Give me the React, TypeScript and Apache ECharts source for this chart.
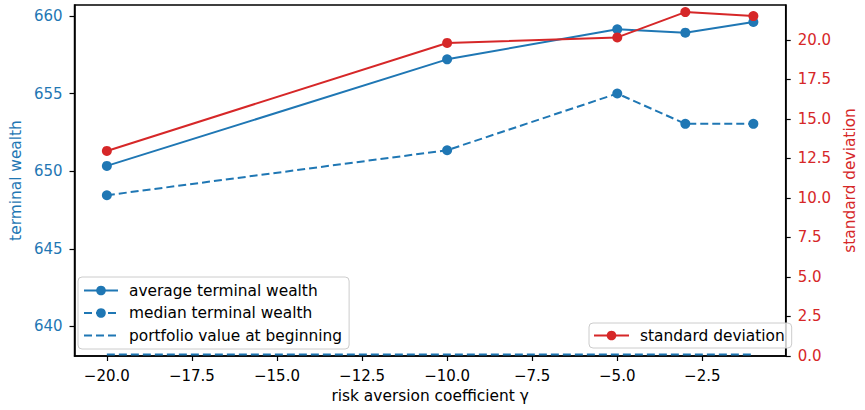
import React, { useEffect, useRef } from "react";
import * as echarts from "echarts";

const gammas = [-20, -10, -5, -3, -1];
const avgWealth = [650.34, 657.2, 659.14, 658.92, 659.61];
const medianWealth = [648.45, 651.35, 655.0, 653.05, 653.05];
const portfolioStart = [638.2, 638.2, 638.2, 638.2, 638.2];
const stdDev = [12.97, 19.8, 20.15, 21.75, 21.5];

const xTicks = [-20, -17.5, -15, -12.5, -10, -7.5, -5, -2.5];
const leftTicks = [640, 645, 650, 655, 660];
const rightTicks = [0, 2.5, 5, 7.5, 10, 12.5, 15, 17.5, 20];

const BLUE = "#1f77b4";
const RED = "#d62728";
const FONT = "DejaVu Sans";
const FS = 15;
const FL = 15.4;

const fmt = (v: number) => {
  const s = v.toFixed(1);
  return v < 0 ? "\u2212" + s.slice(1) : s;
};

const pairs = (ys: number[]) => gammas.map((g, i) => [g, ys[i]]);

export default function App() {
  const ref = useRef<HTMLDivElement>(null);
  useEffect(() => {
    if (!ref.current) return;
    const chart = echarts.init(ref.current, null, { renderer: "svg" });
    const tickStyle = { show: true, inside: false, length: 5, lineStyle: { color: "#000", width: 1.2 } };
    const legendText = { color: "#000", fontSize: FL, fontFamily: FONT, lineHeight: 15, padding: [0, 0, 0, 6] };
    chart.setOption({
      animation: false,
      backgroundColor: "#fff",
      textStyle: { fontFamily: FONT },
      grid: {
        left: 70,
        right: 68,
        top: 5,
        bottom: 54,
        show: true,
        borderColor: "#000",
        borderWidth: 1.5,
        backgroundColor: "transparent",
      },
      xAxis: {
        type: "value",
        min: -20.95,
        max: -0.05,
        name: "risk aversion coefficient \u03b3",
        nameLocation: "middle",
        nameGap: 32,
        nameTextStyle: { color: "#000", fontSize: FL, fontFamily: FONT },
        axisLine: { show: true, lineStyle: { color: "#000", width: 1.5 } },
        axisTick: { ...tickStyle, customValues: xTicks },
        axisLabel: {
          customValues: xTicks,
          formatter: (v: number) => fmt(v),
          color: "#000",
          fontSize: FS,
          fontFamily: FONT,
          margin: 12,
        },
        splitLine: { show: false },
      },
      yAxis: [
        {
          type: "value",
          position: "left",
          min: 638.1,
          max: 660.7,
          name: "terminal wealth",
          nameLocation: "middle",
          nameGap: 47,
          nameTextStyle: { color: BLUE, fontSize: FL, fontFamily: FONT },
          axisLine: { show: true, lineStyle: { color: "#000", width: 1.5 } },
          axisTick: { ...tickStyle, customValues: leftTicks },
          axisLabel: {
            customValues: leftTicks,
            formatter: (v: number) => String(Math.round(v)),
            color: BLUE,
            fontSize: FS,
            fontFamily: FONT,
            margin: 12,
          },
          splitLine: { show: false },
        },
        {
          type: "value",
          position: "right",
          min: 0,
          max: 22.2,
          name: "standard deviation",
          nameLocation: "middle",
          nameGap: 51,
          nameTextStyle: { color: RED, fontSize: FL, fontFamily: FONT },
          axisLine: { show: true, lineStyle: { color: "#000", width: 1.5 } },
          axisTick: { ...tickStyle, customValues: rightTicks },
          axisLabel: {
            customValues: rightTicks,
            formatter: (v: number) => v.toFixed(1),
            color: RED,
            fontSize: FS,
            fontFamily: FONT,
            margin: 12,
          },
          splitLine: { show: false },
        },
      ],
      legend: [
        {
          orient: "vertical",
          left: 78,
          top: 277,
          padding: [6, 7, 6, 5],
          itemWidth: 34,
          itemHeight: 12,
          itemGap: 7.5,
          selectedMode: false,
          backgroundColor: "rgba(255,255,255,0.8)",
          borderColor: "#cccccc",
          borderWidth: 1,
          borderRadius: 4,
          textStyle: legendText,
          data: [
            { name: "average terminal wealth" },
            { name: "median terminal wealth" },
            { name: "portfolio value at beginning", itemStyle: { opacity: 0 } },
          ],
        },
        {
          orient: "vertical",
          left: 589,
          top: 323,
          padding: [5, 7, 5, 4],
          itemWidth: 35,
          itemHeight: 12,
          selectedMode: false,
          backgroundColor: "rgba(255,255,255,0.8)",
          borderColor: "#cccccc",
          borderWidth: 1,
          borderRadius: 4,
          textStyle: legendText,
          data: [{ name: "standard deviation" }],
        },
      ],
      series: [
        {
          name: "average terminal wealth",
          type: "line",
          yAxisIndex: 0,
          data: pairs(avgWealth),
          color: BLUE,
          symbol: "circle",
          symbolSize: 10,
          lineStyle: { color: BLUE, width: 2 },
          itemStyle: { color: BLUE },
        },
        {
          name: "median terminal wealth",
          type: "line",
          yAxisIndex: 0,
          data: pairs(medianWealth),
          color: BLUE,
          symbol: "circle",
          symbolSize: 10,
          lineStyle: { color: BLUE, width: 2, type: [8, 4] },
          itemStyle: { color: BLUE },
        },
        {
          name: "portfolio value at beginning",
          type: "line",
          yAxisIndex: 0,
          data: pairs(portfolioStart),
          color: BLUE,
          symbol: "none",
          showSymbol: false,
          lineStyle: { color: BLUE, width: 2, type: [8, 4] },
          itemStyle: { color: BLUE },
        },
        {
          name: "standard deviation",
          type: "line",
          yAxisIndex: 1,
          data: pairs(stdDev),
          color: RED,
          symbol: "circle",
          symbolSize: 10,
          lineStyle: { color: RED, width: 2 },
          itemStyle: { color: RED },
        },
      ],
    });
    return () => chart.dispose();
  }, []);
  return (
    <div
      ref={ref}
      style={{ position: "fixed", left: 0, top: 0, width: 865, height: 410 }}
    />
  );
}
